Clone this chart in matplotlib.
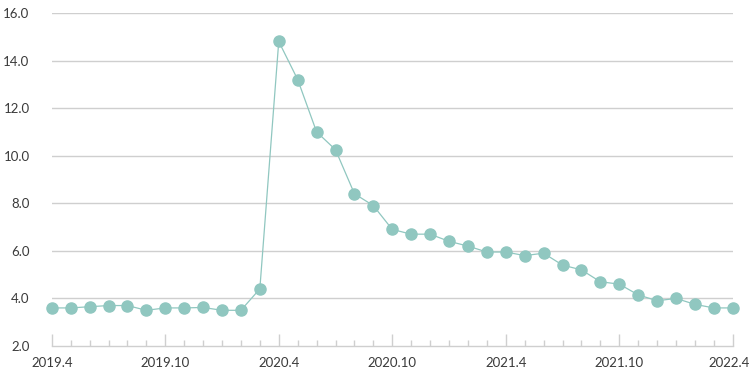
import numpy as np
import matplotlib
matplotlib.use("Agg")
import matplotlib.pyplot as plt
from matplotlib.transforms import ScaledTranslation

plt.rcParams['font.family'] = ['Lato', 'DejaVu Sans']

months = ["2019.4", "2019.5", "2019.6", "2019.7", "2019.8", "2019.9", "2019.10", "2019.11", "2019.12",
          "2020.1", "2020.2", "2020.3", "2020.4", "2020.5", "2020.6", "2020.7", "2020.8", "2020.9",
          "2020.10", "2020.11", "2020.12", "2021.1", "2021.2", "2021.3", "2021.4", "2021.5", "2021.6",
          "2021.7", "2021.8", "2021.9", "2021.10", "2021.11", "2021.12", "2022.1", "2022.2", "2022.3",
          "2022.4"]
values = [3.6, 3.6, 3.65, 3.7, 3.7, 3.5, 3.6, 3.6, 3.62,
          3.5, 3.5, 4.4, 14.8, 13.2, 11.0, 10.25, 8.4, 7.9,
          6.9, 6.7, 6.7, 6.4, 6.2, 5.95, 5.95, 5.8, 5.9,
          5.4, 5.2, 4.7, 4.6, 4.15, 3.9, 4.0, 3.75, 3.6,
          3.6]
label_every = 6
y_ticks = [2.0, 4.0, 6.0, 8.0, 10.0, 12.0, 14.0, 16.0]

teal = "#90c7c0"
grid_c = "#cfcfcf"
text_c = "#3a3a3a"

fig = plt.figure(figsize=(7.5, 3.8), dpi=100)
ax = fig.add_axes([0.069, 0.0895, 0.908, 0.8765])

x = np.arange(len(values))
ax.plot(x, values, color=teal, lw=0.9, marker="o", markersize=8,
        markerfacecolor=teal, markeredgecolor=teal, clip_on=False, zorder=3)

ax.set_xlim(0, len(values) - 1)
ax.set_ylim(2, 16)
ax.set_yticks(y_ticks)
ax.set_yticklabels([f"{v:.1f}" for v in y_ticks])
ax.tick_params(axis="y", length=0, pad=16, labelsize=9.5, labelcolor=text_c)
for v in y_ticks[1:]:
    ax.axhline(v, color=grid_c, lw=1, zorder=1)

major = x[::label_every]
ax.set_xticks(major)
ax.set_xticklabels([months[i] for i in major])
ax.set_xticks(x, minor=True)
ax.tick_params(axis="x", which="major", direction="in", length=9, width=1,
               color=grid_c, labelsize=9.5, labelcolor=text_c, pad=8)
ax.tick_params(axis="x", which="minor", direction="in", length=4, width=1, color=grid_c)

# keep the last label inside the figure
last = ax.get_xticklabels()[-1]
last.set_transform(last.get_transform() + ScaledTranslation(-4 / 100, 0, fig.dpi_scale_trans))

for s in ["top", "right", "left"]:
    ax.spines[s].set_visible(False)
ax.spines["bottom"].set_color(grid_c)
ax.spines["bottom"].set_linewidth(1)

fig.savefig("out.png", dpi=100)
